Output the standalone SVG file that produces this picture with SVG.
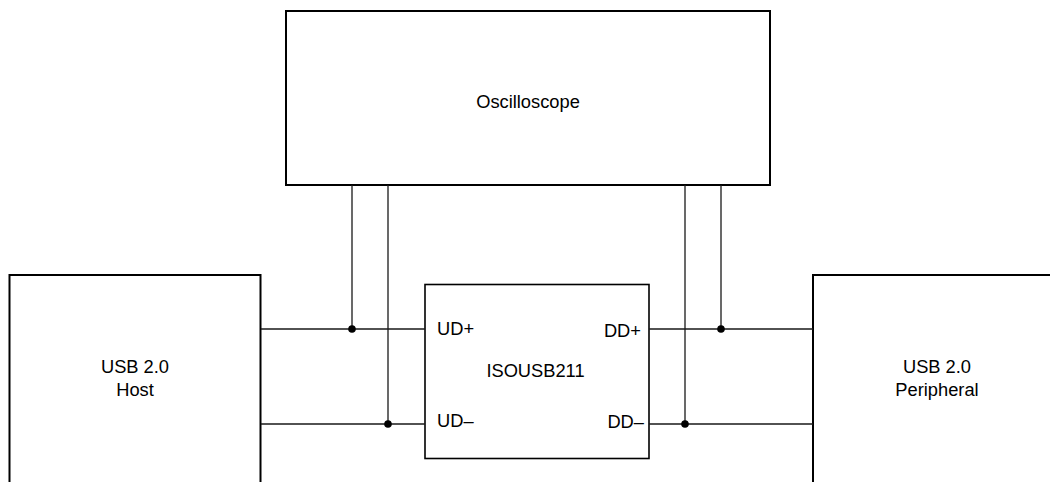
<svg xmlns="http://www.w3.org/2000/svg" width="1050" height="482" viewBox="0 0 1050 482">
<style>
.box{fill:#fff;stroke:#000;stroke-width:2}
.chip{fill:#fff;stroke:#000;stroke-width:1.6}
.w{fill:none;stroke:#1a1a1a;stroke-width:1.3}
.dot{fill:#000}
text{font-family:"Liberation Sans",Arial,sans-serif;font-size:18.3px;fill:#000}
</style>
<rect width="1050" height="482" fill="#fff"/>
<g id="oscilloscope">
<rect class="box" x="286" y="11" width="484" height="174"/>
<text x="528" y="108" text-anchor="middle">Oscilloscope</text>
</g>
<g id="host">
<rect class="box" x="9.5" y="275" width="251" height="230"/>
<text x="135" y="373" text-anchor="middle">USB 2.0</text>
<text x="135" y="396" text-anchor="middle">Host</text>
</g>
<g id="peripheral">
<rect class="box" x="813" y="275" width="260" height="230"/>
<text x="937" y="373" text-anchor="middle">USB 2.0</text>
<text x="937" y="396" text-anchor="middle">Peripheral</text>
</g>
<g id="isousb211">
<rect class="chip" x="425" y="284.5" width="224" height="174"/>
<text x="535.5" y="377" text-anchor="middle">ISOUSB211</text>
<text x="437" y="335">UD+</text>
<text x="437" y="427">UD–</text>
<text x="641" y="337" text-anchor="end">DD+</text>
<text x="644" y="428" text-anchor="end">DD–</text>
</g>
<g id="connectors">
<path class="w" d="M261 329H425M261 424H425M649 329H813M649 424H813"/>
<path class="w" d="M352 185V329M388 185V424M685 185V424M721 185V329"/>
<circle class="dot" cx="352" cy="329" r="3.8"/>
<circle class="dot" cx="388" cy="424" r="3.8"/>
<circle class="dot" cx="685" cy="424" r="3.8"/>
<circle class="dot" cx="721" cy="329" r="3.8"/>
</g>
</svg>
